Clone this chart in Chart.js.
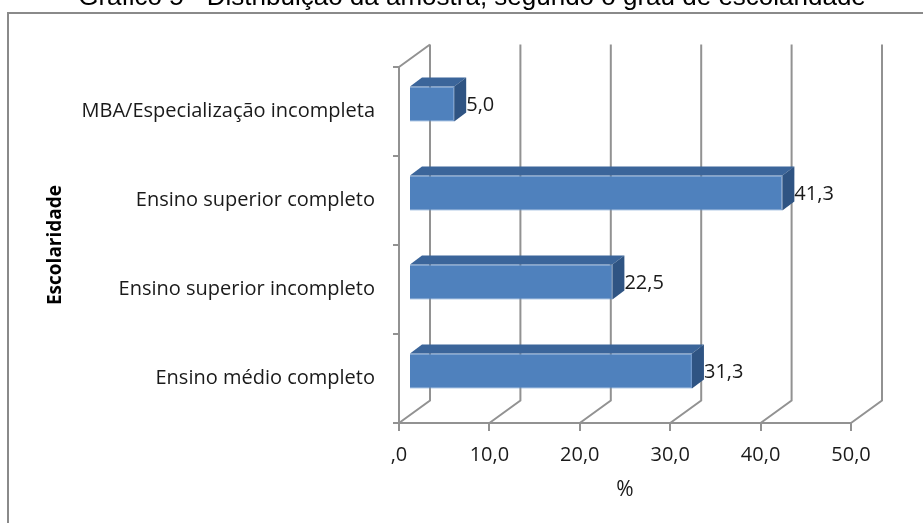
<!DOCTYPE html>
<html lang="pt">
<head>
<meta charset="utf-8">
<title>Gráfico 5 - Escolaridade</title>
<script src="https://cdn.jsdelivr.net/npm/chart.js@4.4.1/dist/chart.umd.min.js"></script>
<style>
  html, body { margin: 0; padding: 0; background: #fff; }
  canvas { display: block; }
</style>
</head>
<body>
<canvas id="chart" width="923" height="523"></canvas>
<script>
const categories = [
  "MBA/Especialização incompleta",
  "Ensino superior completo",
  "Ensino superior incompleto",
  "Ensino médio completo",
];
const percentages = [5.0, 41.3, 22.5, 31.3];
const xTickLabels = [",0", "10,0", "20,0", "30,0", "40,0", "50,0"];

const TITLE = "Gráfico 5 - Distribuição da amostra, segundo o grau de escolaridade";
const FONT = '"Open Sans", "Noto Sans", sans-serif';
const LINE = "#929292";

// oblique offsets for the 3-D look (walls, bar front plane, bar depth)
const WALL_DX = 31, WALL_DY = -22.5;
const BAR_DX = 10, BAR_DY = -7.5;
const DEPTH_DX = 12, DEPTH_DY = -9;

const fmt = (v) => v.toFixed(1).replace(".", ",");

const depthPlugin = {
  id: "depth3d",
  beforeDraw(chart) {
    const ctx = chart.ctx;
    ctx.save();
    ctx.strokeStyle = "#8a8a8a";
    ctx.lineWidth = 2;
    ctx.strokeRect(8, 13, 1000, 1000);
    ctx.fillStyle = "#000";
    ctx.font = '26px "Liberation Sans", Arial, sans-serif';
    ctx.textAlign = "center";
    ctx.textBaseline = "alphabetic";
    ctx.fillText(TITLE, 472, 5);
    ctx.restore();
  },
  beforeDatasetsDraw(chart) {
    const { ctx, chartArea: a, scales: { x } } = chart;
    ctx.save();
    ctx.strokeStyle = LINE;
    ctx.lineWidth = 2;
    ctx.beginPath();
    // left wall top edge
    ctx.moveTo(a.left, a.top);
    ctx.lineTo(a.left + WALL_DX, a.top + WALL_DY);
    x.ticks.forEach((t) => {
      const px = x.getPixelForValue(t.value);
      // floor diagonal + back wall gridline
      ctx.moveTo(px, a.bottom);
      ctx.lineTo(px + WALL_DX, a.bottom + WALL_DY);
      ctx.lineTo(px + WALL_DX, a.top + WALL_DY);
    });
    ctx.stroke();
    ctx.restore();
  },
  beforeDatasetDraw(chart) {
    chart.ctx.save();
    chart.ctx.translate(BAR_DX, BAR_DY);
  },
  afterDatasetDraw(chart, args) {
    const ctx = chart.ctx;
    const meta = args.meta;
    meta.data.forEach((el) => {
      const { x, y, base, height } = el.getProps(["x", "y", "base", "height"], true);
      const top = y - height / 2, bottom = y + height / 2;
      ctx.fillStyle = "#3b659a";
      ctx.beginPath();
      ctx.moveTo(base, top);
      ctx.lineTo(x, top);
      ctx.lineTo(x + DEPTH_DX, top + DEPTH_DY);
      ctx.lineTo(base + DEPTH_DX, top + DEPTH_DY);
      ctx.closePath();
      ctx.fill();
      ctx.fillStyle = "#2f5483";
      ctx.beginPath();
      ctx.moveTo(x, top);
      ctx.lineTo(x + DEPTH_DX, top + DEPTH_DY);
      ctx.lineTo(x + DEPTH_DX, bottom + DEPTH_DY);
      ctx.lineTo(x, bottom);
      ctx.closePath();
      ctx.fill();
    });
    ctx.restore();

    // value labels beside each bar
    ctx.save();
    ctx.fillStyle = "#1a1a1a";
    ctx.font = "20px " + FONT;
    ctx.textAlign = "left";
    ctx.textBaseline = "middle";
    meta.data.forEach((el, i) => {
      ctx.fillText(fmt(percentages[i]), el.x + BAR_DX + DEPTH_DX, el.y - 6);
    });
    ctx.restore();
  },
};

new Chart(document.getElementById("chart"), {
  type: "bar",
  data: {
    labels: categories,
    datasets: [{
      data: percentages,
      backgroundColor: "#4f81bd",
      borderColor: "#6592cb",
      borderWidth: 1,
      categoryPercentage: 1,
      barPercentage: 0.394,
    }],
  },
  options: {
    indexAxis: "y",
    responsive: false,
    animation: false,
    layout: { padding: { left: 0, right: 72, top: 67, bottom: 0 } },
    plugins: {
      legend: { display: false },
      tooltip: { enabled: false },
    },
    scales: {
      x: {
        min: 0,
        max: 50,
        ticks: {
          stepSize: 10,
          padding: 12,
          color: "#1a1a1a",
          font: { family: FONT, size: 20 },
          callback: (v, i) => xTickLabels[i],
        },
        grid: { drawOnChartArea: false, drawTicks: true, tickLength: 8, color: LINE, lineWidth: 2 },
        border: { display: true, color: LINE, width: 2 },
        title: {
          display: true,
          text: "%",
          color: "#1a1a1a",
          font: { family: FONT, size: 21 },
          padding: { top: 0, bottom: 20 },
        },
        afterFit: (scale) => { scale.height = 100; },
      },
      y: {
        ticks: {
          padding: 18,
          color: "#1a1a1a",
          font: { family: FONT, size: 20 },
        },
        grid: { drawOnChartArea: false, drawTicks: true, tickLength: 6, color: LINE, lineWidth: 2, offset: true },
        border: { display: true, color: LINE, width: 2 },
        title: {
          display: true,
          text: "Escolaridade",
          color: "#000",
          font: { family: FONT, size: 19, weight: "bold" },
          padding: { top: 44, bottom: 0 },
        },
        afterFit: (scale) => { scale.width = 399; },
      },
    },
  },
  plugins: [depthPlugin],
});
</script>
</body>
</html>
